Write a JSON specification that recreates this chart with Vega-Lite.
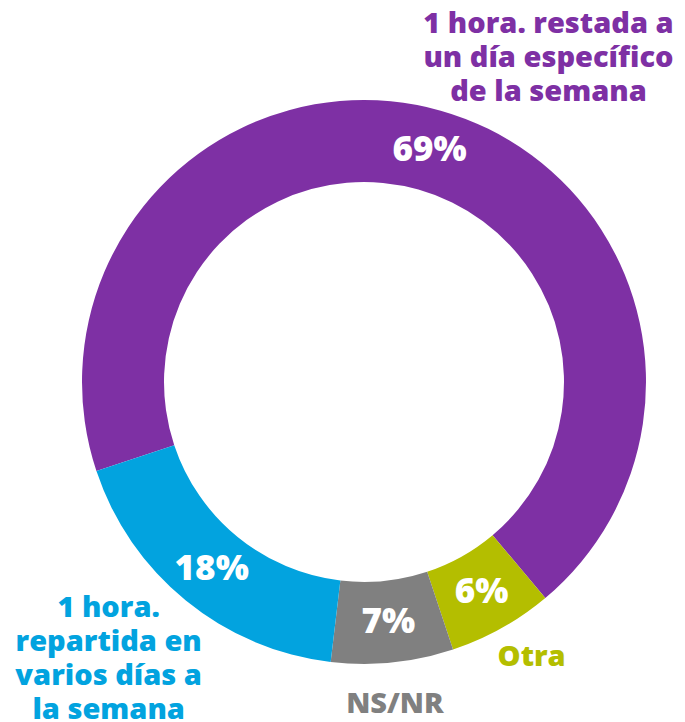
{
  "$schema": "https://vega.github.io/schema/vega-lite/v6.json",
  "width": 564,
  "height": 564,
  "autosize": "none",
  "padding": {"left": 82, "top": 100, "right": 39, "bottom": 58},
  "background": "white",
  "config": {"view": {"stroke": null}},
  "data": {
    "values": [
      {"category": "1 hora. restada a\nun día específico\nde la semana", "share": 0.69, "order": 1},
      {"category": "Otra", "share": 0.06, "order": 2},
      {"category": "NS/NR", "share": 0.07, "order": 3},
      {"category": "1 hora.\nrepartida en\nvarios días a\nla semana", "share": 0.18, "order": 4}
    ]
  },
  "encoding": {
    "theta": {"field": "share", "type": "quantitative", "stack": true, "scale": {"range": [-1.892, 4.391]}},
    "order": {"field": "order", "type": "quantitative"},
    "color": {
      "field": "category",
      "type": "nominal",
      "scale": {
        "domain": ["1 hora. restada a\nun día específico\nde la semana", "Otra", "NS/NR", "1 hora.\nrepartida en\nvarios días a\nla semana"],
        "range": ["#7E30A4", "#B4BE00", "#808080", "#02A3DF"]
      },
      "legend": null
    }
  },
  "layer": [
    {"mark": {"type": "arc", "innerRadius": 200, "outerRadius": 282}},
    {
      "mark": {"type": "text", "radius": 241, "fontSize": 35, "fontWeight": 800, "font": "Open Sans", "align": "center", "baseline": "middle"},
      "encoding": {
        "text": {"field": "share", "type": "quantitative", "format": ".0%"},
        "color": {"value": "white"}
      }
    },
    {
      "mark": {
        "type": "text", "radius": 325, "fontSize": 29, "fontWeight": 800, "font": "Open Sans",
        "align": "center", "baseline": "middle", "lineBreak": "\n", "lineHeight": 34,
        "dx": {"expr": "datum.order == 1 ? 96 : datum.order == 4 ? -50 : datum.order == 2 ? 9 : -2"},
        "dy": {"expr": "datum.order == 1 ? -45 : datum.order == 4 ? -26 : datum.order == 2 ? -9 : -1"}
      },
      "encoding": {"text": {"field": "category", "type": "nominal"}}
    }
  ]
}
